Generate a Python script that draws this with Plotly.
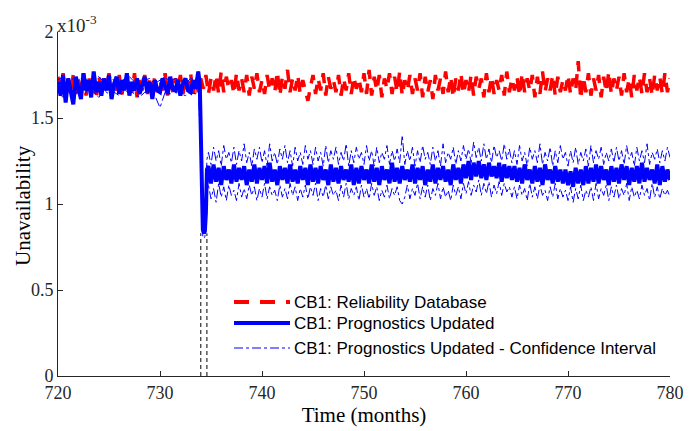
import numpy as np
import plotly.graph_objects as go

# ---------------- data (unavailability in units of 1e-3) ----------------
red_time = np.round(np.arange(720.0, 780.01, 0.25), 2)
red_values = [
    1.74,1.65,1.76,1.62,1.73,1.66,1.75,1.64,1.72,1.67,1.76,1.63,1.74,1.66,1.72,1.61,1.75,1.65,1.73,1.67,
    1.76,1.64,1.72,1.66,1.75,1.63,1.74,1.67,1.73,1.65,1.76,1.62,1.72,1.66,1.75,1.64,1.73,1.67,1.74,1.65,
    1.72,1.66,1.76,1.63,1.74,1.65,1.73,1.67,1.75,1.64,1.72,1.66,1.76,1.63,1.74,1.65,1.73,1.67,1.75,1.64,
    1.73,1.66,1.75,1.64,1.77,1.65,1.74,1.67,1.72,1.64,1.76,1.66,1.73,1.65,1.75,1.63,1.74,1.67,1.76,1.65,
    1.72,1.64,1.75,1.66,1.73,1.65,1.77,1.63,1.74,1.67,1.78,1.65,1.73,1.66,1.75,1.64,1.72,1.66,1.60,1.68,
    1.75,1.64,1.73,1.66,1.76,1.63,1.74,1.67,1.72,1.65,1.75,1.63,1.73,1.66,1.76,1.64,1.74,1.67,1.73,1.65,
    1.76,1.64,1.78,1.63,1.74,1.66,1.75,1.62,1.73,1.67,1.76,1.64,1.74,1.65,1.77,1.63,1.72,1.66,1.75,1.64,
    1.73,1.66,1.76,1.62,1.74,1.65,1.72,1.61,1.75,1.66,1.73,1.64,1.77,1.65,1.74,1.62,1.73,1.66,1.76,1.64,
    1.72,1.65,1.75,1.63,1.74,1.67,1.73,1.62,1.76,1.65,1.74,1.64,1.72,1.66,1.75,1.63,1.77,1.65,1.73,1.66,
    1.74,1.63,1.76,1.65,1.73,1.66,1.75,1.62,1.74,1.64,1.77,1.65,1.73,1.66,1.75,1.63,1.74,1.65,1.72,1.66,
    1.75,1.64,1.73,1.66,1.83,1.61,1.74,1.65,1.76,1.63,1.73,1.66,1.75,1.62,1.74,1.65,1.77,1.64,1.73,1.66,
    1.74,1.63,1.76,1.65,1.73,1.62,1.75,1.66,1.74,1.64,1.76,1.65,1.73,1.63,1.75,1.66,1.74,1.64,1.76,1.65,
    1.73,
]

# Prognostics updated (main), before the drop
main_time_pre = np.round(np.arange(720.0, 733.76, 0.25), 2)
main_values_pre = [
    1.71,1.63,1.75,1.59,1.73,1.65,1.58,1.74,1.67,1.61,1.76,1.66,1.72,1.62,1.77,1.65,1.71,1.63,1.73,1.66,
    1.75,1.61,1.70,1.74,1.64,1.72,1.66,1.76,1.63,1.71,1.66,1.73,1.64,1.70,1.74,1.65,1.71,1.61,1.72,1.66,
    1.65,1.73,1.68,1.64,1.74,1.67,1.66,1.72,1.63,1.70,1.73,1.66,1.65,1.72,1.67,1.77,
]
# the drop
main_time_drop = [733.9, 734.0, 734.1, 734.2, 734.3, 734.4, 734.5, 734.6]
main_values_drop = [1.70, 1.30, 0.95, 0.85, 0.83, 0.84, 0.95, 1.20]
# after the drop
main_time_post = np.round(np.arange(734.75, 780.01, 0.25), 2)
main_values_post = [
    1.22,1.12,1.23,1.13,1.21,1.11,1.22,1.14,1.20,1.12,1.23,1.13,1.21,1.14,1.22,1.11,1.20,1.13,1.23,1.12,
    1.21,1.14,1.22,1.12,1.24,1.13,1.20,1.11,1.22,1.14,1.21,1.12,1.23,1.13,1.20,1.12,1.22,1.14,1.21,1.11,
    1.23,1.13,1.21,1.12,1.22,1.14,1.20,1.11,1.23,1.13,1.21,1.12,1.22,1.14,1.20,1.13,1.23,1.11,1.21,1.12,
    1.22,1.14,1.20,1.12,1.23,1.13,1.21,1.11,1.22,1.14,1.20,1.12,1.24,1.13,1.21,1.12,1.22,1.14,1.20,1.13,
    1.23,1.12,1.21,1.14,1.22,1.11,1.20,1.13,1.23,1.12,1.21,1.14,1.22,1.13,1.20,1.11,1.23,1.14,1.21,1.12,
    1.23,1.15,1.25,1.14,1.24,1.16,1.25,1.15,1.23,1.14,1.24,1.16,1.22,1.15,1.24,1.13,1.23,1.15,1.22,1.14,
    1.22,1.13,1.21,1.12,1.23,1.14,1.20,1.12,1.22,1.13,1.21,1.11,1.23,1.14,1.20,1.12,1.22,1.13,1.20,1.12,
    1.20,1.11,1.19,1.10,1.21,1.12,1.20,1.11,1.22,1.12,1.21,1.13,1.23,1.12,1.22,1.14,1.20,1.11,1.22,1.13,
    1.21,1.12,1.23,1.14,1.22,1.11,1.21,1.13,1.22,1.12,1.24,1.13,1.21,1.14,1.20,1.12,1.23,1.11,1.22,1.13,
    1.20,1.14,
]

# Confidence interval
ci_time_pre = np.round(np.arange(720.0, 733.51, 0.5), 2)
ci_upper_pre = [1.72,1.74,1.71,1.73,1.72,1.75,1.70,1.73,1.74,1.71,1.73,1.72,1.70,1.73,
                1.74,1.71,1.73,1.72,1.73,1.70,1.72,1.74,1.71,1.73,1.72,1.70,1.73,1.72]
ci_lower_pre = [1.65,1.62,1.66,1.64,1.65,1.63,1.67,1.65,1.62,1.66,1.64,1.65,1.63,1.65,
                1.66,1.64,1.62,1.65,1.64,1.63,1.56,1.65,1.64,1.66,1.64,1.63,1.65,1.64]
ci_time_drop = [733.75, 734.0, 734.1, 734.2, 734.3, 734.4, 734.5, 734.6]
ci_upper_drop = [1.77, 1.35, 1.00, 0.89, 0.86, 0.87, 1.00, 1.26]
ci_lower_drop = [1.70, 1.25, 0.90, 0.81, 0.80, 0.81, 0.90, 1.10]
ci_upper_post = [
    1.30,1.23,1.33,1.25,1.31,1.22,1.34,1.26,1.30,1.24,1.33,1.23,1.31,1.25,1.35,1.24,1.30,1.22,1.32,1.26,
    1.33,1.24,1.31,1.22,1.35,1.25,1.30,1.23,1.32,1.26,1.34,1.24,1.31,1.22,1.33,1.25,1.30,1.23,1.34,1.26,
    1.31,1.23,1.33,1.25,1.30,1.22,1.34,1.24,1.31,1.26,1.33,1.23,1.30,1.25,1.35,1.22,1.31,1.24,1.33,1.26,
    1.30,1.23,1.34,1.25,1.31,1.22,1.33,1.24,1.30,1.26,1.34,1.23,1.31,1.25,1.32,1.24,1.40,1.23,1.31,1.25,
    1.33,1.22,1.31,1.24,1.34,1.26,1.30,1.23,1.33,1.25,1.31,1.22,1.35,1.24,1.30,1.26,1.33,1.23,1.31,1.25,
    1.34,1.26,1.32,1.24,1.36,1.27,1.33,1.25,1.35,1.26,1.32,1.24,1.34,1.27,1.31,1.25,1.35,1.26,1.32,1.24,
    1.31,1.23,1.34,1.25,1.30,1.22,1.33,1.26,1.31,1.24,1.35,1.23,1.30,1.25,1.33,1.22,1.31,1.24,1.34,1.26,
    1.30,1.22,1.31,1.24,1.33,1.23,1.30,1.25,1.32,1.22,1.34,1.24,1.31,1.26,1.33,1.23,1.30,1.25,1.32,1.24,
    1.33,1.25,1.31,1.23,1.34,1.26,1.30,1.22,1.33,1.25,1.31,1.24,1.35,1.23,1.30,1.26,1.32,1.24,1.31,1.25,
    1.33,1.27,
]
ci_lower_post = [
    1.11,1.03,1.09,1.01,1.12,1.04,1.10,1.02,1.11,1.05,1.08,1.02,1.12,1.04,1.09,1.03,1.11,1.05,1.10,1.02,
    1.09,1.04,1.12,1.03,1.10,1.05,1.08,1.02,1.11,1.04,1.09,1.03,1.12,1.05,1.10,1.02,1.09,1.04,1.11,1.03,
    1.10,1.05,1.12,1.02,1.09,1.04,1.11,1.03,1.10,1.05,1.08,1.02,1.11,1.04,1.12,1.03,1.09,1.05,1.10,1.02,
    1.11,1.04,1.09,1.03,1.12,1.05,1.10,1.02,1.08,1.04,1.11,1.03,1.09,1.05,1.10,1.02,1.00,1.04,1.11,1.03,
    1.09,1.05,1.12,1.03,1.10,1.04,1.11,1.02,1.09,1.05,1.12,1.03,1.10,1.04,1.08,1.02,1.11,1.05,1.10,1.03,
    1.12,1.06,1.13,1.05,1.11,1.07,1.14,1.05,1.12,1.06,1.13,1.04,1.11,1.06,1.13,1.05,1.12,1.07,1.10,1.04,
    1.10,1.03,1.11,1.05,1.09,1.02,1.12,1.04,1.10,1.03,1.11,1.05,1.08,1.02,1.10,1.04,1.12,1.03,1.09,1.04,
    1.08,1.02,1.10,1.01,1.09,1.03,1.11,1.02,1.08,1.04,1.10,1.02,1.12,1.03,1.09,1.05,1.11,1.02,1.10,1.04,
    1.11,1.03,1.09,1.05,1.12,1.02,1.10,1.04,1.08,1.03,1.11,1.05,1.09,1.02,1.12,1.04,1.10,1.03,1.09,1.05,
    1.08,1.04,
]

# dashed markers around the drop
event_times = [734.0, 734.6]
event_level = 0.83

x_ticks = [720, 730, 740, 750, 760, 770, 780]
y_ticks = [0, 0.5, 1, 1.5, 2]

legend_labels = ["CB1: Reliability Database",
                 "CB1: Prognostics Updated",
                 "CB1: Prognostics Updated - Confidence Interval"]

# ---------------- figure ----------------
RED = "#ff0000"
BLUE = "#0000ff"
AX = "#262626"
RED_DASH = "14px,9px"

main_time = list(main_time_pre) + main_time_drop + list(main_time_post)
main_values = main_values_pre + main_values_drop + main_values_post
ci_time = list(ci_time_pre) + ci_time_drop + list(main_time_post)
ci_upper = ci_upper_pre + ci_upper_drop + ci_upper_post
ci_lower = ci_lower_pre + ci_lower_drop + ci_lower_post

fig = go.Figure()
fig.add_trace(go.Scatter(x=red_time, y=red_values, mode="lines",
                         line=dict(color=RED, width=3.5, dash=RED_DASH),
                         name=legend_labels[0], showlegend=False))
fig.add_trace(go.Scatter(x=main_time, y=main_values, mode="lines",
                         line=dict(color=BLUE, width=4),
                         name=legend_labels[1], showlegend=False))
fig.add_trace(go.Scatter(x=ci_time, y=ci_upper, mode="lines",
                         line=dict(color=BLUE, width=1, dash="dashdot"),
                         name=legend_labels[2], showlegend=False))
fig.add_trace(go.Scatter(x=ci_time, y=ci_lower, mode="lines",
                         line=dict(color=BLUE, width=1, dash="dashdot"),
                         name=legend_labels[2], showlegend=False))
for t in event_times:
    fig.add_trace(go.Scatter(x=[t, t], y=[0, event_level], mode="lines",
                             line=dict(color="black", width=1, dash="4px,3px"),
                             showlegend=False, hoverinfo="skip"))

# manual legend (no box), drawn in paper coordinates
L, R, T, B = 58, 670, 32, 376
def px(xp):
    return (xp - L) / (R - L)
def py(yp):
    return (B - yp) / (B - T)

legend_rows = [(302, RED, 4, "15px,11px"), (323, BLUE, 4, "solid"), (348, BLUE, 1, "dashdot")]
for (yy, col, w, dsh), label in zip(legend_rows, legend_labels):
    fig.add_shape(type="line", xref="paper", yref="paper",
                  x0=px(234), x1=px(290), y0=py(yy), y1=py(yy),
                  line=dict(color=col, width=w, dash=dsh))
    fig.add_annotation(xref="paper", yref="paper", x=px(292), y=py(yy),
                       xanchor="left", yanchor="middle", showarrow=False,
                       text=label, font=dict(family="Liberation Sans, Arial", size=17, color="black"))

serif = "Liberation Serif, Times New Roman, serif"

fig.add_annotation(xref="paper", yref="paper", x=0, y=1, xanchor="left", yanchor="bottom",
                   showarrow=False, text="x10<sup>-3</sup>", yshift=-6, xshift=-3,
                   font=dict(family=serif, size=19, color=AX))
# y-axis title
fig.add_annotation(xref="paper", yref="paper", x=px(23), y=py(206), xanchor="center", yanchor="middle",
                   showarrow=False, text="Unavailability", textangle=-90,
                   font=dict(family=serif, size=21, color="black"))

fig.update_layout(
    width=699, height=431,
    margin=dict(l=L, r=699 - R, t=T, b=431 - B, autoexpand=False),
    paper_bgcolor="white", plot_bgcolor="white",
    font=dict(family=serif, size=18, color=AX),
    showlegend=False,
    xaxis=dict(range=[720, 780], tickvals=x_ticks, ticktext=[str(v) for v in x_ticks],
               ticks="inside", ticklen=5, tickcolor=AX, showline=True, linecolor=AX, linewidth=1,
               showgrid=False, zeroline=False, automargin=False,
               title=dict(text="Time (months)", font=dict(family=serif, size=21, color="black"), standoff=2),
               tickfont=dict(family=serif, size=18, color=AX)),
    yaxis=dict(range=[0, 2], tickvals=y_ticks, ticktext=["0", "0.5", "1", "1.5", "2"],
               ticks="inside", ticklen=5, tickcolor=AX, showline=True, linecolor=AX, linewidth=1,
               showgrid=False, zeroline=False, automargin=False,
               tickfont=dict(family=serif, size=18, color=AX)),
)

fig.write_html("out.html", config={"displayModeBar": False},
               post_script="document.body.style.margin='0';")
